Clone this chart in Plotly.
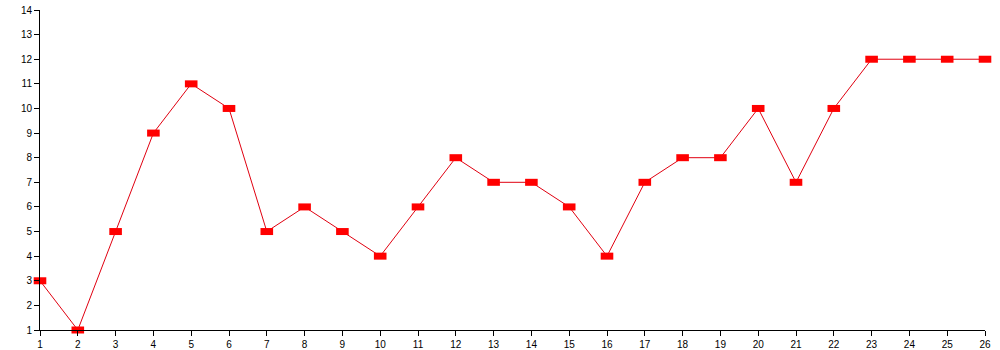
import plotly.graph_objects as go

x_vals = list(range(1, 27))
y_vals = [3, 1, 5, 9, 11, 10, 5, 6, 5, 4, 6, 8, 7, 7, 6, 4, 7, 8, 8, 10, 7, 10, 12, 12, 12, 12]
x_ticks = list(range(1, 27))
y_ticks = list(range(1, 15))

fig = go.Figure()
fig.add_trace(go.Scatter(
    x=x_vals, y=y_vals, mode="lines+markers",
    line=dict(color="#e00010", width=1),
    marker=dict(symbol="line-ew", size=9, color="#ff0000",
                line=dict(color="#ff0000", width=7)),
    cliponaxis=False,
))
fig.update_layout(
    width=1000, height=350,
    margin=dict(l=40, r=15, t=10, b=20, autoexpand=False),
    paper_bgcolor="white", plot_bgcolor="white",
    showlegend=False,
    font=dict(family="Liberation Sans, Arial, sans-serif", size=10, color="black"),
)
fig.update_xaxes(range=[1, 26], tickvals=x_ticks, ticks="outside", ticklen=5,
                 tickcolor="black", showline=True, linecolor="black", linewidth=1,
                 showgrid=False, zeroline=False, tickfont=dict(size=10), automargin=False)
fig.update_yaxes(range=[1, 14], tickvals=y_ticks, ticks="outside", ticklen=5,
                 tickcolor="black", showline=True, linecolor="black", linewidth=1,
                 showgrid=False, zeroline=False, tickfont=dict(size=10), automargin=False)
fig.write_html("out.html")
